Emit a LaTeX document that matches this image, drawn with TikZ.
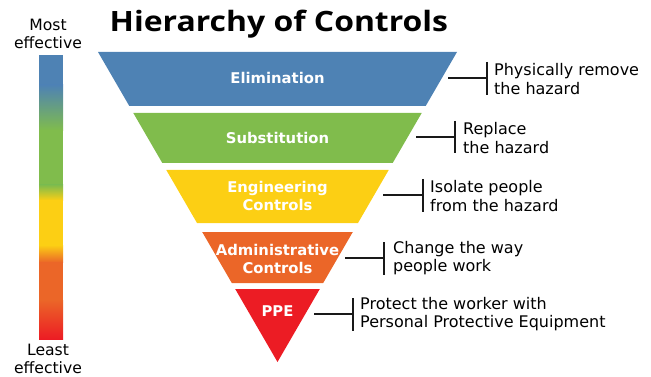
\documentclass[tikz,border=0pt]{standalone}
\usepackage{fontspec}
\setmainfont{DejaVu Sans}
\newfontfamily\titlefont[FakeStretch=1.14]{Open Sans}
\definecolor{cblue}{HTML}{4E82B4}
\definecolor{cgreen}{HTML}{80BC4C}
\definecolor{cyellow}{HTML}{FCCF14}
\definecolor{corange}{HTML}{EB6628}
\definecolor{cred}{HTML}{EC1C24}
\begin{document}
\begin{tikzpicture}[x=1pt,y=-1pt,
  bandtext/.style={text=white,font=\bfseries\fontsize{14.8}{18}\selectfont,align=center,inner sep=0pt},
  desc/.style={anchor=west,align=left,font=\fontsize{16}{18.5}\selectfont,inner sep=0pt},
  side/.style={align=center,font=\fontsize{15.6}{18}\selectfont,inner sep=0pt},
  conn/.style={line width=1.3pt,black!90}]
\useasboundingbox (0,0) rectangle (651,377);
% title
\node[anchor=base west,inner sep=0pt,font=\titlefont\bfseries\fontsize{28}{34}\selectfont] (title) at (109.5,32) {Hierarchy of Controls};
% gradient bar
\fill[cblue] (39,55) rectangle (63,85.5);
\shade[top color=cblue,bottom color=cgreen] (39,85) rectangle (63,130.5);
\fill[cgreen] (39,130) rectangle (63,185.5);
\shade[top color=cgreen,bottom color=cyellow] (39,185) rectangle (63,200.5);
\fill[cyellow] (39,200) rectangle (63,245.5);
\shade[top color=cyellow,bottom color=corange] (39,245) rectangle (63,262.5);
\fill[corange] (39,262) rectangle (63,300.5);
\shade[top color=corange,bottom color=cred] (39,300) rectangle (63,339);
\node[side] (most) at (48,34) {Most\\effective};
\node[side] (least) at (48,359) {Least\\effective};
% bands
\fill[cblue] (98,52) -- (457,52) -- (425.7,106) -- (129.3,106) -- cycle;
\fill[cgreen] (133.3,113) -- (421.7,113) -- (392.7,163) -- (162.3,163) -- cycle;
\fill[cyellow] (166.3,170) -- (388.7,170) -- (358,223) -- (197,223) -- cycle;
\fill[corange] (202.2,232) -- (352.8,232) -- (323.2,283) -- (231.8,283) -- cycle;
\fill[cred] (235.2,289) -- (319.8,289) -- (277.5,362) -- cycle;
% band labels
\node[bandtext] (lelim) at (277.5,78) {Elimination};
\node[bandtext] (lsub) at (277.5,138) {Substitution};
\node[bandtext] (leng) at (277.5,196) {Engineering\\Controls};
\node[bandtext] (ladm) at (277.5,259) {Administrative\\Controls};
\node[bandtext] (lppe) at (277.5,311) {PPE};
% descriptions and connectors
\coordinate (s1) at (448,78); \coordinate (b1) at (487,78);
\coordinate (b1t) at (487,62); \coordinate (b1b) at (487,95);
\node[desc] (d1) at (494,79) {Physically remove\\the hazard};
\draw[conn] (s1) -- (b1); \draw[conn] (b1t) -- (b1b);
\coordinate (s2) at (416,137); \coordinate (b2) at (455,137);
\coordinate (b2t) at (455,121); \coordinate (b2b) at (455,153);
\node[desc] (d2) at (463,138) {Replace\\the hazard};
\draw[conn] (s2) -- (b2); \draw[conn] (b2t) -- (b2b);
\coordinate (s3) at (383,195); \coordinate (b3) at (423,195);
\coordinate (b3t) at (423,179); \coordinate (b3b) at (423,212);
\node[desc] (d3) at (430,196) {Isolate people\\from the hazard};
\draw[conn] (s3) -- (b3); \draw[conn] (b3t) -- (b3b);
\coordinate (s4) at (345,258); \coordinate (b4) at (384,258);
\coordinate (b4t) at (384,242); \coordinate (b4b) at (384,275);
\node[desc] (d4) at (393,258) {Change the way\\people work};
\draw[conn] (s4) -- (b4); \draw[conn] (b4t) -- (b4b);
\coordinate (s5) at (314,314); \coordinate (b5) at (353,314);
\coordinate (b5t) at (353,298); \coordinate (b5b) at (353,331);
\node[desc] (d5) at (360,314) {Protect the worker with\\Personal Protective Equipment};
\draw[conn] (s5) -- (b5); \draw[conn] (b5t) -- (b5b);
\end{tikzpicture}
\end{document}
